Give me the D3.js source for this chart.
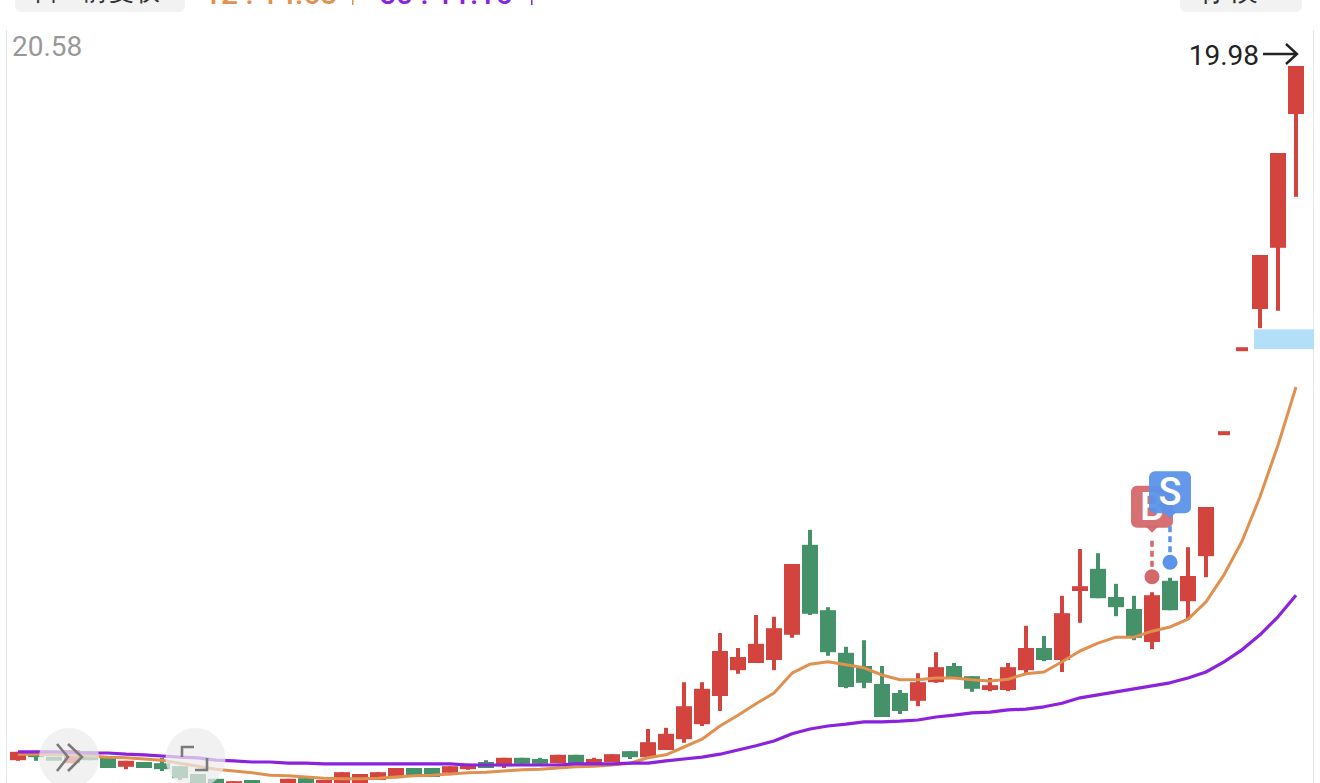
<!DOCTYPE html>
<html><head><meta charset="utf-8">
<script src="https://cdnjs.cloudflare.com/ajax/libs/d3/7.8.5/d3.min.js"></script>
<style>html,body{margin:0;padding:0;background:#fff;overflow:hidden}svg{display:block}text{font-family:Roboto,sans-serif}</style>
</head><body><svg id="c" width="1320" height="783"></svg>
<script>
const opens=[8.41,8.56,8.46,8.36,8.56,8.45,8.30,8.38,8.36,8.31,8.18,8.10,7.91,8.08,7.88,7.91,8.11,7.95,8.00,8.03,8.08,8.11,8.28,8.28,8.20,8.26,8.38,8.31,8.45,8.43,8.36,8.50,8.36,8.38,8.56,8.46,8.58,8.76,9.01,9.48,9.91,10.03,10.08,10.50,12.00,10.91,10.20,9.98,9.68,9.53,9.40,9.71,9.98,9.81,9.58,9.58,9.91,10.28,10.08,11.23,11.60,11.13,10.93,10.38,11.40,11.06,11.81,13.86,15.26,15.93,16.95,19.18];
const closes=[8.55,8.46,8.41,8.58,8.41,8.28,8.40,8.28,8.26,8.11,7.98,7.91,8.06,7.91,8.00,8.10,7.91,8.08,8.21,8.18,8.21,8.28,8.15,8.13,8.31,8.35,8.28,8.45,8.35,8.35,8.50,8.36,8.43,8.51,8.46,8.71,8.85,9.31,9.60,10.23,10.13,10.35,10.61,11.68,10.85,10.21,9.63,9.70,9.13,9.23,9.71,9.96,9.78,9.60,9.66,9.96,10.28,10.08,10.86,11.31,11.11,10.96,10.45,11.16,10.91,11.48,12.63,13.86,15.26,16.83,18.53,19.98];
const highs=[8.55,8.56,8.46,8.58,8.56,8.45,8.40,8.38,8.45,8.31,8.18,8.10,8.06,8.08,8.00,8.10,8.11,8.08,8.21,8.18,8.21,8.28,8.28,8.28,8.31,8.35,8.41,8.45,8.45,8.45,8.50,8.50,8.45,8.51,8.56,8.93,8.95,9.71,9.71,10.53,10.28,10.83,10.80,11.68,12.25,10.96,10.30,10.41,9.98,9.58,9.86,10.21,10.03,9.81,9.78,10.03,10.65,10.48,11.15,11.93,11.86,11.35,11.15,11.21,11.45,11.96,12.63,13.86,15.26,16.83,18.53,19.98];
const lows=[8.40,8.40,8.41,8.36,8.41,8.28,8.26,8.28,8.23,8.08,7.98,7.91,7.91,7.91,7.88,7.91,7.91,7.95,8.00,8.03,8.08,8.11,8.15,8.13,8.16,8.25,8.28,8.28,8.35,8.35,8.36,8.33,8.36,8.38,8.43,8.45,8.58,8.70,8.98,9.23,9.85,10.03,9.91,10.45,10.83,10.15,9.61,9.61,9.13,9.18,9.31,9.70,9.78,9.55,9.56,9.56,9.86,10.06,9.88,10.70,11.11,10.81,10.41,10.26,10.91,10.75,11.46,13.86,15.26,15.61,15.90,17.80];
const ma12=[8.51,8.51,8.50,8.50,8.48,8.46,8.45,8.43,8.41,8.36,8.31,8.26,8.23,8.20,8.16,8.15,8.13,8.11,8.10,8.10,8.11,8.13,8.15,8.16,8.18,8.20,8.21,8.23,8.25,8.26,8.28,8.30,8.31,8.33,8.36,8.45,8.50,8.63,8.76,8.98,9.16,9.35,9.53,9.86,10.01,10.05,10.00,9.95,9.83,9.75,9.75,9.78,9.78,9.75,9.73,9.76,9.85,9.88,10.05,10.23,10.36,10.46,10.46,10.56,10.63,10.76,11.05,11.50,12.06,12.80,13.66,14.63];
const ma50=[8.55,8.55,8.55,8.54,8.53,8.53,8.51,8.50,8.48,8.46,8.45,8.41,8.40,8.38,8.38,8.36,8.36,8.35,8.35,8.35,8.35,8.35,8.35,8.35,8.35,8.33,8.33,8.33,8.33,8.33,8.33,8.35,8.35,8.35,8.36,8.36,8.40,8.43,8.46,8.51,8.58,8.65,8.73,8.85,8.93,8.98,9.01,9.05,9.05,9.06,9.08,9.13,9.16,9.20,9.21,9.25,9.26,9.30,9.36,9.45,9.50,9.55,9.60,9.65,9.70,9.78,9.88,10.05,10.25,10.50,10.80,11.16];
const topPrice=20.58, lastPrice=19.98;
const zoneTop=15.59, zoneBottom=15.26, zoneStart=69;
const signals=[{i:63,label:"B",color:"#d4686a"},{i:64,label:"S",color:"#5b92ea"}];
const headerLeft="日K 前复权", headerMa12="12 : 14.63", headerMa50="50 : 11.16", headerRight="标模";

const svg=d3.select("#c");
const x=d3.scaleLinear().domain([0,71]).range([18,1296]);
const y=d3.scaleLinear().domain([topPrice,7.53]).range([30,813]);
const RED="#d4443e",GREEN="#45916a";

svg.append("line").attr("x1",6.5).attr("x2",6.5).attr("y1",30).attr("y2",783).attr("stroke","#e8e8e8");
svg.append("line").attr("x1",1313.5).attr("x2",1313.5).attr("y1",30).attr("y2",783).attr("stroke","#e8e8e8");

const btn=(bx,w)=>svg.append("rect").attr("x",bx).attr("y",-20).attr("width",w).attr("height",32).attr("rx",6).attr("fill","#f2f2f2");
btn(15,170);btn(1180,122);
svg.append("text").attr("x",33).attr("y",0).attr("font-size",26).attr("fill","#333").text(headerLeft);
svg.append("text").attr("x",1198).attr("y",0).attr("font-size",30).attr("fill","#333").text(headerRight);
svg.append("text").attr("x",204).attr("y",4).attr("font-size",30).attr("font-weight",500).attr("fill","#e0904f").text(headerMa12);
svg.append("rect").attr("x",352).attr("y",0).attr("width",1.5).attr("height",5).attr("fill","#e0904f");
svg.append("text").attr("x",379).attr("y",4).attr("font-size",30).attr("font-weight",500).attr("fill","#8a22de").text(headerMa50);
svg.append("rect").attr("x",531).attr("y",0).attr("width",1.5).attr("height",5).attr("fill","#8a22de");

svg.append("rect").attr("x",x(zoneStart)-6).attr("width",1314-x(zoneStart)+6)
  .attr("y",y(zoneTop)).attr("height",y(zoneBottom)-y(zoneTop)).attr("fill","#b3dff8");

const data=opens.map((o,i)=>({i,o,c:closes[i],h:highs[i],l:lows[i]}));
const g=svg.append("g");
const col=d=>d.c>=d.o?RED:GREEN;
g.selectAll("line").data(data).join("line")
  .attr("x1",d=>x(d.i)).attr("x2",d=>x(d.i)).attr("y1",d=>y(d.h)).attr("y2",d=>y(d.l))
  .attr("stroke",col).attr("stroke-width",4);
g.selectAll("rect").data(data).join("rect")
  .attr("x",d=>x(d.i)-(d.h===d.l?6:8)).attr("width",d=>d.h===d.l?12:16)
  .attr("y",d=>{const t=y(Math.max(d.o,d.c)),b=y(Math.min(d.o,d.c));return b-t<4?(t+b)/2-2:t;})
  .attr("height",d=>Math.max(4,Math.abs(y(d.o)-y(d.c))))
  .attr("fill",col);

const line=d3.line().x((d,i)=>x(i)).y(d=>y(d));
svg.append("path").attr("d",line(ma12)).attr("fill","none").attr("stroke","#e0904f").attr("stroke-width",3).attr("stroke-linejoin","round");
svg.append("path").attr("d",line(ma50)).attr("fill","none").attr("stroke","#8a22de").attr("stroke-width",3.2).attr("stroke-linejoin","round");

signals.forEach(s=>{
  const cx=x(s.i), cy=y(highs[s.i])-15.5, top=cy-91;
  const gs=svg.append("g");
  gs.append("line").attr("x1",cx).attr("x2",cx).attr("y1",cy).attr("y2",cy-40)
    .attr("stroke",s.color).attr("stroke-width",3.5).attr("stroke-dasharray","6 4");
  gs.append("circle").attr("cx",cx).attr("cy",cy).attr("r",7.5).attr("fill",s.color);
  gs.append("path").attr("d",`M${cx-7},${top+40}L${cx},${top+47}L${cx+7},${top+40}Z`).attr("fill",s.color).attr("opacity",.95);
  gs.append("rect").attr("x",cx-21).attr("y",top).attr("width",42).attr("height",42).attr("rx",6).attr("fill",s.color).attr("opacity",.95);
  gs.append("text").attr("x",cx).attr("y",top+34).attr("text-anchor","middle").attr("font-size",38).attr("font-weight",500).attr("fill","#fff").text(s.label);
});

svg.append("text").attr("x",12).attr("y",56).attr("font-size",28).attr("fill","#999").text(topPrice.toFixed(2));
svg.append("text").attr("x",1259).attr("y",y(lastPrice)-1).attr("text-anchor","end").attr("font-size",28).attr("fill","#222").text(lastPrice.toFixed(2));
const ay=y(lastPrice)-12;
svg.append("path").attr("d",`M1263,${ay}H1297M1286,${ay-10}L1297,${ay}L1286,${ay+10}`).attr("fill","none").attr("stroke","#222").attr("stroke-width",2.4);

[[69,758],[195.5,758]].forEach(c=>svg.append("circle").attr("cx",c[0]).attr("cy",c[1]).attr("r",30).attr("fill","#ececec").attr("fill-opacity",.72));
svg.append("path").attr("d","M57,744L68,757L57,771M68,744L82,757L68,771").attr("fill","none").attr("stroke","#7a7a7a").attr("stroke-width",2.6);
svg.append("path").attr("d","M182,757V747H194M195,770H207V758").attr("fill","none").attr("stroke","#7a7a7a").attr("stroke-width",2.6);
</script></body></html>
